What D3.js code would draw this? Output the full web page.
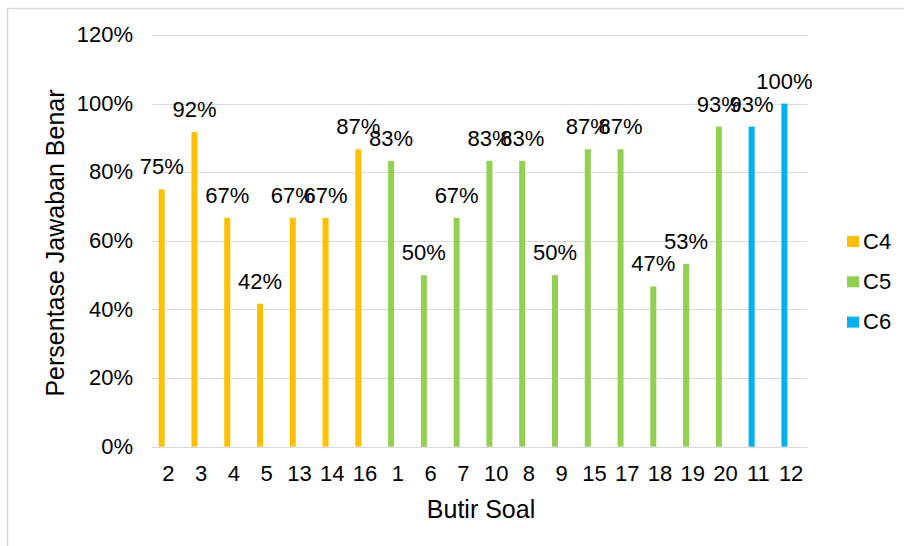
<!DOCTYPE html>
<html><head><meta charset="utf-8">
<script src="https://cdn.jsdelivr.net/npm/d3@7"></script>
<style>
body{margin:0;background:#fff;}
svg{display:block;font-family:"Liberation Sans",Arial,sans-serif;}
</style></head>
<body><svg id="c" width="904" height="546"></svg>
<script>
const categories = ["2","3","4","5","13","14","16","1","6","7","10","8","9","15","17","18","19","20","11","12"];
const groups = ["C4","C4","C4","C4","C4","C4","C4","C5","C5","C5","C5","C5","C5","C5","C5","C5","C5","C5","C6","C6"];
const values = [0.75,0.917,0.667,0.417,0.667,0.667,0.867,0.833,0.5,0.667,0.833,0.833,0.5,0.867,0.867,0.467,0.533,0.933,0.933,1.0];
const seriesNames = ["C4","C5","C6"];
const seriesColors = ["#FFC000","#92D050","#00B0F0"];
const yTicks = [0,0.2,0.4,0.6,0.8,1.0,1.2];

const svg = d3.select("#c");
const fs = 22, fsT = 25;
svg.append("rect").attr("x",7.5).attr("y",8.5).attr("width",1000).attr("height",1000)
  .attr("fill","none").attr("stroke","#d9d9d9").attr("stroke-width",1.5);

const x = d3.scaleBand().domain(categories).range([152,807.5]);
const y = d3.scaleLinear().domain([0,1.2]).range([446.7,35]);
const color = d3.scaleOrdinal().domain(seriesNames).range(seriesColors);

// gridlines
svg.append("g").selectAll("line").data(yTicks).join("line")
  .attr("x1",152).attr("x2",807.5)
  .attr("y1",d=>Math.round(y(d))+0.5).attr("y2",d=>Math.round(y(d))+0.5)
  .attr("stroke","#d9d9d9").attr("stroke-width",1);

// y axis labels
const yAxis = d3.axisLeft(y).tickValues(yTicks).tickFormat(d3.format(".0%")).tickSize(0).tickPadding(0);
const gy = svg.append("g").attr("transform","translate(133,0)").call(yAxis);
gy.select(".domain").remove();
gy.selectAll("text").attr("font-size",fs).attr("fill","#000").attr("font-family","Liberation Sans, Arial, sans-serif").attr("dy","0.3em");

// x axis labels
const xAxis = d3.axisBottom(x).tickSize(0).tickPadding(0);
const gx = svg.append("g").attr("transform","translate(0,0)").call(xAxis);
gx.select(".domain").remove();
gx.selectAll("text").attr("font-size",fs).attr("fill","#000").attr("font-family","Liberation Sans, Arial, sans-serif").attr("y",481).attr("dy",0);

const data = categories.map((c,i)=>({c, g:groups[i], v:values[i]}));
const bw = 6, off = -6.7;
svg.append("g").selectAll("rect").data(data).join("rect")
  .attr("x",d=>x(d.c)+x.bandwidth()/2+off-bw/2)
  .attr("width",bw)
  .attr("y",d=>y(d.v))
  .attr("height",d=>y(0)-y(d.v))
  .attr("fill",d=>color(d.g));

svg.append("g").selectAll("text").data(data).join("text")
  .attr("x",d=>x(d.c)+x.bandwidth()/2+off)
  .attr("y",d=>y(d.v)-15)
  .attr("text-anchor","middle").attr("font-size",fs).attr("fill","#000")
  .text(d=>d3.format(".0%")(d.v));

// axis titles
svg.append("text").attr("x",481).attr("y",518).attr("text-anchor","middle")
  .attr("font-size",fsT).attr("fill","#000").text("Butir Soal");
svg.append("text").attr("transform","translate(64,243) rotate(-90)").attr("text-anchor","middle")
  .attr("font-size",fsT).attr("fill","#000").text("Persentase Jawaban Benar");

// legend
const lg = svg.append("g").selectAll("g").data(seriesNames).join("g")
  .attr("transform",(d,i)=>`translate(847,${236+i*40.3})`);
lg.append("rect").attr("width",12).attr("height",11).attr("fill",d=>color(d));
lg.append("text").attr("x",16).attr("y",12.5).attr("font-size",fs).attr("fill","#000").text(d=>d);
</script></body></html>
